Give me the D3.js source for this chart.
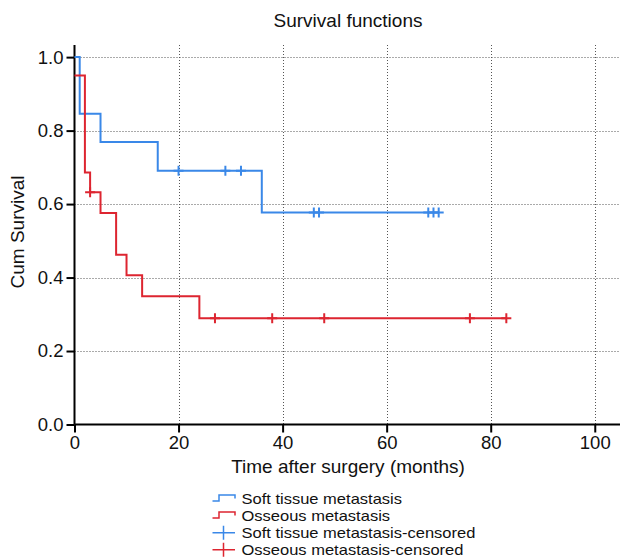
<!DOCTYPE html>
<html><head><meta charset="utf-8">
<script src="https://cdn.jsdelivr.net/npm/d3@7"></script>
<style>
html,body{margin:0;padding:0;background:#fff;}
text{font-family:"Liberation Sans",Arial,Helvetica,sans-serif;fill:#111;}
</style></head>
<body><svg id="chart" width="620" height="558"></svg>
<script>
// ---- data ----
const xTicks = [0, 20, 40, 60, 80, 100];
const yTicks = [0.0, 0.2, 0.4, 0.6, 0.8, 1.0];
const seriesNames = ["Soft tissue metastasis", "Osseous metastasis"];
// step function: event times and survival after each event
const softTimes = [0, 1, 5, 16, 36];
const softSurv  = [1.0, 0.846, 0.769, 0.691, 0.577];
const softEnd = 70;
const softCensored = [20, 29, 32, 46, 47, 68, 69, 70];
const ossTimes = [0, 2, 3, 5, 8, 10, 13, 24];
const ossSurv  = [0.950, 0.686, 0.632, 0.576, 0.462, 0.406, 0.349, 0.289];
const ossEnd = 83;
const ossCensored = [3, 27, 38, 48, 76, 83];

const colors = ["#3a88e8", "#dd2530"];

const svg = d3.select("#chart");
const x = d3.scaleLinear().domain([0, 104.85]).range([74.5, 620]);
const y = d3.scaleLinear().domain([0, 1.033]).range([424.5, 45]);

// grid
const grid = svg.append("g").attr("stroke", "#555").attr("stroke-width", 1).attr("stroke-dasharray", "1,2");
xTicks.filter(d => d > 0).forEach(d => {
  grid.append("line").attr("x1", Math.round(x(d)) + 0.5).attr("x2", Math.round(x(d)) + 0.5)
    .attr("y1", y(1.033)).attr("y2", y(0));
});
yTicks.filter(d => d > 0).forEach(d => {
  grid.append("line").attr("y1", Math.round(y(d)) + 0.5).attr("y2", Math.round(y(d)) + 0.5)
    .attr("x1", x(0)).attr("x2", 620);
});

// axes
const xAxis = d3.axisBottom(x).tickValues(xTicks).tickFormat(d3.format("d")).tickSize(8).tickPadding(3);
const yAxis = d3.axisLeft(y).tickValues(yTicks).tickFormat(d3.format(".1f")).tickSize(8).tickPadding(3);
const gx = svg.append("g").attr("transform", `translate(0,${y(0)})`).call(xAxis);
const gy = svg.append("g").attr("transform", `translate(${x(0)},0)`).call(yAxis);
[gx, gy].forEach(g => {
  g.selectAll("path.domain").attr("stroke", "#000").attr("stroke-width", 2);
  g.selectAll(".tick line").attr("stroke", "#000").attr("stroke-width", 2);
  g.selectAll(".tick text").attr("font-size", 18.5).attr("font-family", "Liberation Sans, Arial, sans-serif").attr("fill", "#111");
});
gx.select("path.domain").attr("d", `M${x(0)},0H620`);
gy.select("path.domain").attr("d", `M0,${y(1.033)}V${y(0)}`);

// step curves
function stepData(times, surv, end) {
  const pts = times.map((t, i) => [t, surv[i]]);
  pts.push([end, surv[surv.length - 1]]);
  return pts;
}
const line = d3.line().x(d => x(d[0])).y(d => y(d[1])).curve(d3.curveStepAfter);
const curves = [
  {times: softTimes, surv: softSurv, end: softEnd, cens: softCensored},
  {times: ossTimes, surv: ossSurv, end: ossEnd, cens: ossCensored}
];
function survAt(c, t) {
  let s = c.surv[0];
  c.times.forEach((tt, i) => { if (tt <= t) s = c.surv[i]; });
  return s;
}
curves.forEach((c, i) => {
  svg.append("path").datum(stepData(c.times, c.surv, c.end))
    .attr("d", line).attr("fill", "none").attr("stroke", colors[i]).attr("stroke-width", 2);
  c.cens.forEach(t => {
    const cx = x(t), cy = y(survAt(c, t));
    svg.append("path").attr("d", `M${cx - 5},${cy}H${cx + 5}M${cx},${cy - 5}V${cy + 5}`)
      .attr("stroke", colors[i]).attr("stroke-width", 2).attr("fill", "none");
  });
});

// titles
svg.append("text").attr("x", 348).attr("y", 27).attr("text-anchor", "middle").attr("font-size", 19).text("Survival functions");
svg.append("text").attr("x", 348).attr("y", 473).attr("text-anchor", "middle").attr("font-size", 19).text("Time after surgery (months)");
svg.append("text").attr("transform", "translate(24,232) rotate(-90)").attr("text-anchor", "middle").attr("font-size", 19).text("Cum Survival");

// legend
const legendLabels = [seriesNames[0], seriesNames[1], seriesNames[0] + "-censored", seriesNames[1] + "-censored"];
const lg = svg.append("g");
legendLabels.forEach((lab, i) => {
  const cy = 498.5 + i * 17.1;
  const col = colors[i % 2];
  if (i < 2) {
    lg.append("path").attr("d", `M212.5,${cy + 2.5}H219V${cy - 3.5}H235V${cy}`)
      .attr("stroke", col).attr("stroke-width", 1.5).attr("fill", "none");
  } else {
    lg.append("path").attr("d", `M212.5,${cy}H235M223.5,${cy - 7}V${cy + 7}`)
      .attr("stroke", col).attr("stroke-width", 1.5).attr("fill", "none");
  }
  const t = lg.append("text").attr("x", 241.5).attr("y", cy + 5.2).attr("font-size", 16.5).text(lab);
  const w = t.node().getComputedTextLength();
  t.attr("font-size", 14.8).attr("textLength", w).attr("lengthAdjust", "spacingAndGlyphs");
});
</script></body></html>
